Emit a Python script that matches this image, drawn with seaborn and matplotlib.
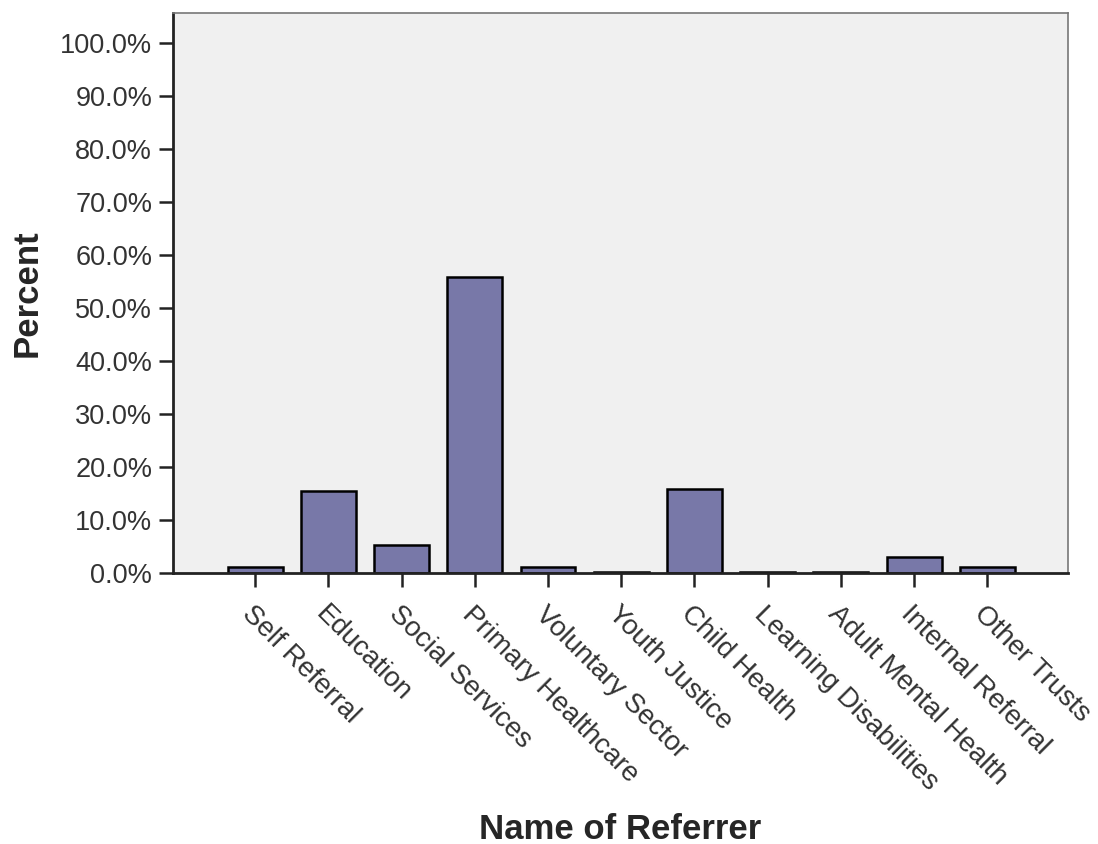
import matplotlib
matplotlib.use("Agg")
import matplotlib.pyplot as plt
import matplotlib.transforms as mtransforms
import seaborn as sns
import pandas as pd
from matplotlib.ticker import FuncFormatter

referrers = ["Self Referral", "Education", "Social Services", "Primary Healthcare",
             "Voluntary Sector", "Youth Justice", "Child Health", "Learning Disabilities",
             "Adult Mental Health", "Internal Referral", "Other Trusts"]
percent = [1.1, 15.5, 5.2, 55.8, 1.1, 0.2, 15.9, 0.2, 0.2, 3.1, 1.1]
y_ticks = [0, 10, 20, 30, 40, 50, 60, 70, 80, 90, 100]

df = pd.DataFrame({"referrer": referrers, "percent": percent})

sns.set_style("white")
plt.rcParams["font.family"] = ["Liberation Sans", "DejaVu Sans"]

fig = plt.figure(figsize=(10.98, 8.44), dpi=100)
ax = fig.add_axes([0.1576, 0.3211, 0.815, 0.6635])
ax.set_facecolor("#f0f0f0")

sns.barplot(data=df, x="referrer", y="percent", color="#7878a8", saturation=1,
            width=0.75, edgecolor="black", linewidth=1.8, ax=ax)

ax.set_xlim(-1.12, len(referrers) - 1 + 1.1)
ax.set_ylim(0, 105.7)
ax.set_yticks(y_ticks)
ax.yaxis.set_major_formatter(FuncFormatter(lambda v, p: f"{v:.1f}%"))

for side in ["left", "bottom"]:
    ax.spines[side].set_color("#222222")
    ax.spines[side].set_linewidth(2.0)
for side in ["top", "right"]:
    ax.spines[side].set_color("#777777")
    ax.spines[side].set_linewidth(1.2)

ax.tick_params(axis="both", which="major", length=10, width=1.8, color="#222222",
               labelcolor="#333333", direction="out", left=True, bottom=True)
ax.tick_params(axis="y", pad=5, labelsize=19.5)
ax.tick_params(axis="x", pad=17, labelsize=20)

# shift the rotated labels a little to the left, like the original
offset = mtransforms.ScaledTranslation(-9 / 100, 0, fig.dpi_scale_trans)
for lab in ax.get_xticklabels():
    lab.set_rotation(-45)
    lab.set_ha("left")
    lab.set_va("center")
    lab.set_rotation_mode("anchor")
    lab.set_transform(lab.get_transform() + offset)

ax.set_xlabel("Name of Referrer", fontsize=25, fontweight="bold")
ax.xaxis.set_label_coords(0.5, -0.428)
ax.set_ylabel("Percent", fontsize=25, fontweight="bold", labelpad=12)

fig.savefig("out.png", dpi=100)
